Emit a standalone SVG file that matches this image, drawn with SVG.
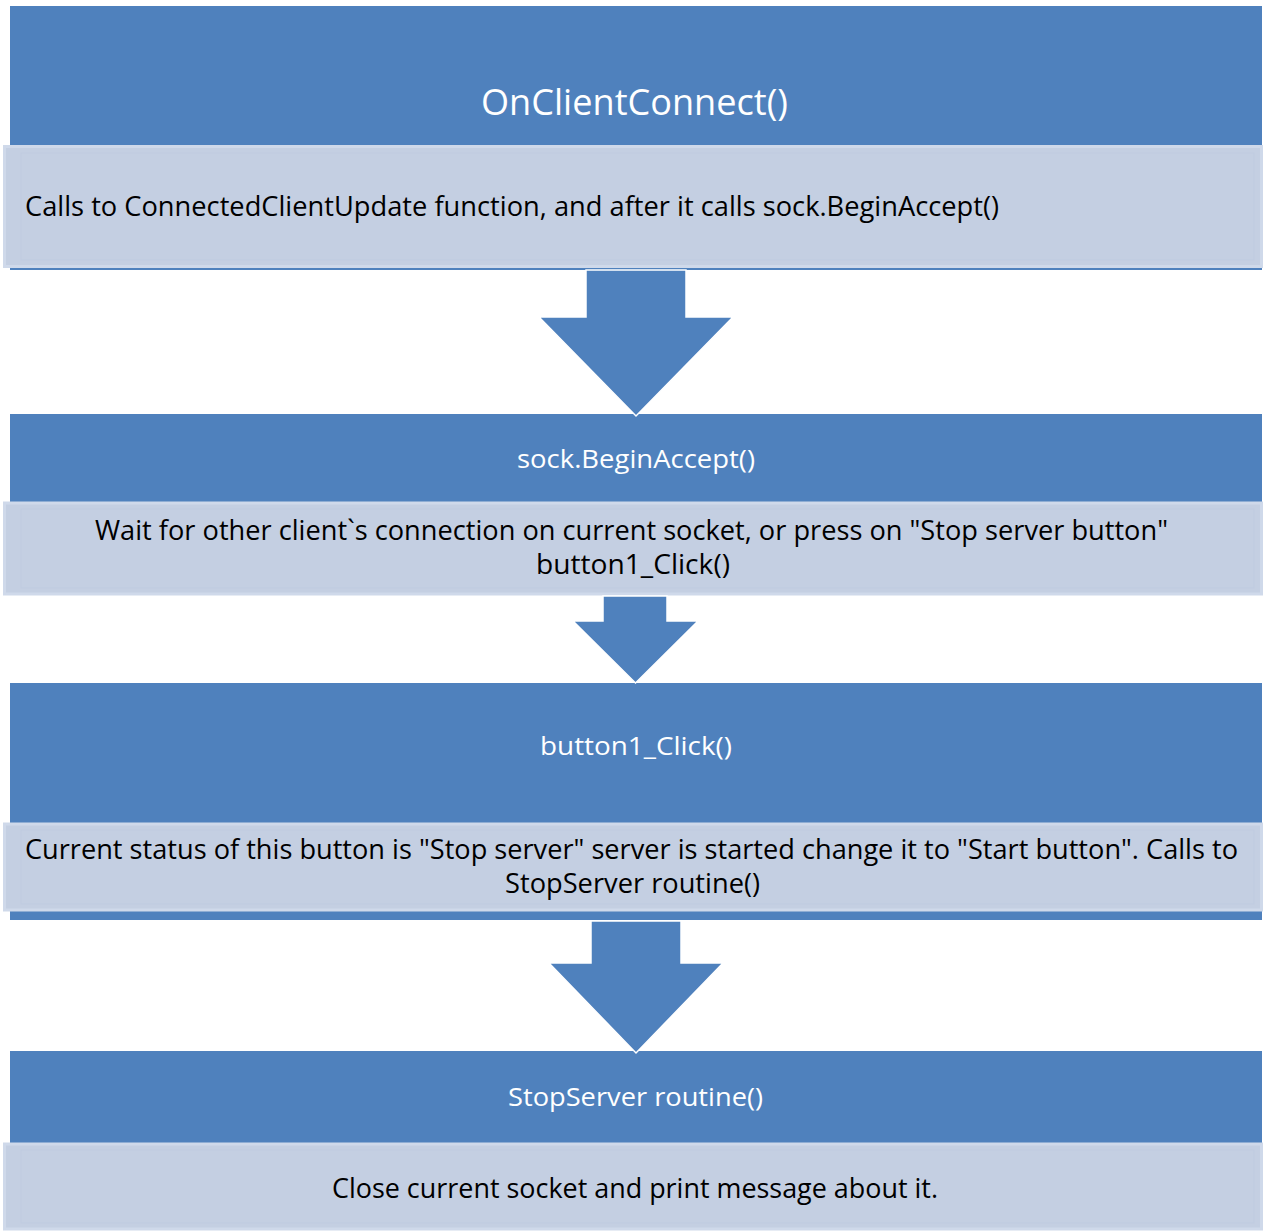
<svg xmlns="http://www.w3.org/2000/svg" width="1263" height="1231" viewBox="0 0 1263 1231">
  <style>
    .head { fill: #4f81bd; }
    .body { fill: #c4cfe2; stroke: #cfd9ea; stroke-width: 3; }
    .inner { fill: none; stroke: #bfcbe0; stroke-width: 1; }
    .arrow { fill: #4f81bd; stroke: #ffffff; stroke-width: 1.5; stroke-linejoin: miter; }
    .ht { font-family: "Open Sans", "Noto Sans", sans-serif; fill: #ffffff; text-anchor: middle; }
    .bt { font-family: "Open Sans", "Noto Sans", sans-serif; fill: #000000; }
  </style>

  <!-- step 1 -->
  <g id="node-onclientconnect">
    <rect class="head" x="10" y="6" width="1252" height="264"/>
    <rect class="body" x="4.5" y="146.5" width="1257" height="120"/>
    <rect class="inner" x="21" y="153" width="1233" height="107"/>
    <text class="ht" x="634.5" y="115" font-size="37" textLength="307" lengthAdjust="spacingAndGlyphs">OnClientConnect()</text>
    <text class="bt" x="25" y="216" font-size="27" textLength="974" lengthAdjust="spacingAndGlyphs">Calls to ConnectedClientUpdate function, and after it calls sock.BeginAccept()</text>
  </g>

  <!-- step 2 -->
  <g id="node-beginaccept">
    <rect class="head" x="10" y="414" width="1252" height="176"/>
    <rect class="body" x="4.5" y="503" width="1257" height="91"/>
    <rect class="inner" x="21" y="509" width="1233" height="79"/>
    <text class="ht" x="636" y="468" font-size="25" textLength="238" lengthAdjust="spacingAndGlyphs">sock.BeginAccept()</text>
    <text class="bt" x="631.5" y="540" font-size="27" text-anchor="middle" textLength="1073" lengthAdjust="spacingAndGlyphs">Wait for other client`s connection on current socket, or press on "Stop server button"</text>
    <text class="bt" x="633" y="574" font-size="27" text-anchor="middle" textLength="194" lengthAdjust="spacingAndGlyphs">button1_Click()</text>
  </g>

  <!-- step 3 -->
  <g id="node-button1-click">
    <rect class="head" x="10" y="683" width="1252" height="237"/>
    <rect class="body" x="4.5" y="824" width="1257" height="86"/>
    <rect class="inner" x="21" y="830" width="1233" height="74"/>
    <text class="ht" x="636" y="755" font-size="25" textLength="192" lengthAdjust="spacingAndGlyphs">button1_Click()</text>
    <text class="bt" x="631.5" y="859" font-size="27" text-anchor="middle" textLength="1213" lengthAdjust="spacingAndGlyphs">Current status of this button is "Stop server" server is started change it to "Start button". Calls to</text>
    <text class="bt" x="632.5" y="893" font-size="27" text-anchor="middle" textLength="255" lengthAdjust="spacingAndGlyphs">StopServer routine()</text>
  </g>

  <!-- step 4 -->
  <g id="node-stopserver">
    <rect class="head" x="10" y="1051" width="1252" height="100"/>
    <rect class="body" x="4.5" y="1144" width="1257" height="85"/>
    <rect class="inner" x="21" y="1150" width="1233" height="73"/>
    <text class="ht" x="635.5" y="1106" font-size="25" textLength="255" lengthAdjust="spacingAndGlyphs">StopServer routine()</text>
    <text class="bt" x="635" y="1198" font-size="27" text-anchor="middle" textLength="606" lengthAdjust="spacingAndGlyphs">Close current socket and print message about it.</text>
  </g>

  <!-- block arrows between steps -->
  <g id="connectors">
    <polygon class="arrow" points="586,270 686,270 686,317 733,317 636,416 539,317 586,317"/>
    <polygon class="arrow" points="603,596 667,596 667,621 698,621 635.5,683 573,621 603,621"/>
    <polygon class="arrow" points="591,921 681,921 681,963 723,963 636,1053 549,963 591,963"/>
  </g>
</svg>
